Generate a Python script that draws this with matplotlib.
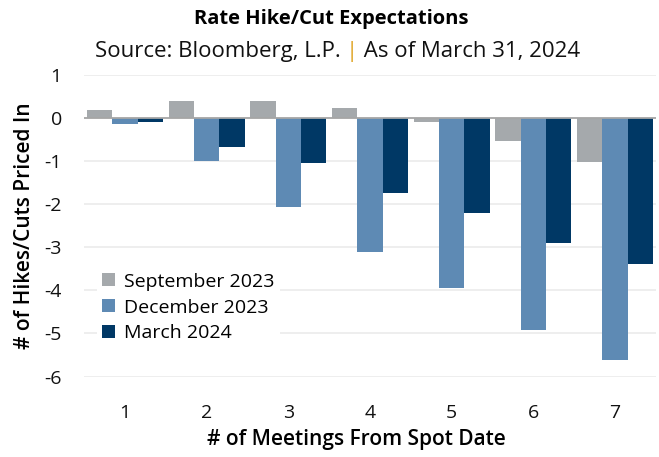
import matplotlib
matplotlib.use('Agg')
import matplotlib.pyplot as plt
import numpy as np

plt.rcParams['font.family'] = ['Open Sans', 'DejaVu Sans']
plt.rcParams['axes.unicode_minus'] = False

# Data
meetings = ['1', '2', '3', '4', '5', '6', '7']
sep_2023 = [0.18, 0.39, 0.39, 0.23, -0.09, -0.53, -1.03]
dec_2023 = [-0.15, -1.00, -2.06, -3.10, -3.95, -4.91, -5.61]
mar_2024 = [-0.10, -0.67, -1.05, -1.75, -2.21, -2.90, -3.39]
series_names = ['September 2023', 'December 2023', 'March 2024']
colors = ['#A5A9AC', '#5E8AB4', '#003865']

fig = plt.figure(figsize=(6.59, 4.57), dpi=100)
ax = fig.add_axes([0.1275, 0.176, 0.8675, 0.66])

x = np.arange(1, len(meetings) + 1)
w = 0.31
for i, (vals, name, c) in enumerate(zip([sep_2023, dec_2023, mar_2024],
                                         series_names, colors)):
    ax.bar(x + (i - 1) * w, vals, width=w, color=c, label=name, zorder=3)

ax.set_xlim(0.5, 7.5)
ax.set_ylim(-6, 1)
ax.set_yticks(range(-6, 2))
ax.set_xticks(x)
ax.set_xticklabels(meetings)
ax.grid(axis='y', color='#EBEBEB', lw=1.2, zorder=0)
ax.axhline(0, color='#A6A6A6', lw=1.3, zorder=4)
for s in ax.spines.values():
    s.set_visible(False)
ax.tick_params(axis='both', length=0, labelsize=14, colors='#111111')
ax.tick_params(axis='x', pad=20)
ax.tick_params(axis='y', pad=16)

ax.set_xlabel('# of Meetings From Spot Date', fontsize=15,
              fontweight='semibold')
ax.xaxis.set_label_coords(0.476, -0.175)
ax.set_ylabel('# of Hikes/Cuts Priced In', fontsize=15,
              fontweight='semibold', labelpad=7)

leg = ax.legend(loc='lower left', bbox_to_anchor=(0.005, 0.062), frameon=True,
                fontsize=14, handlelength=0.65, handleheight=0.65,
                handletextpad=0.45, labelspacing=0.4, borderpad=0.3)
leg.get_frame().set_facecolor('white')
leg.get_frame().set_edgecolor('none')
leg.get_frame().set_alpha(1)
leg.set_zorder(5)

fig.text(0.502, 0.958, 'Rate Hike/Cut Expectations', ha='center',
         va='center', fontsize=14.5, fontweight='bold')

# Subtitle with gold separator
parts = ['Source: Bloomberg, L.P. ', '|', ' As of March 31, 2024']
pcolors = ['#111111', '#E0A526', '#111111']
texts = [fig.text(0, 0.887, p, ha='left', va='center', fontsize=16, color=c)
         for p, c in zip(parts, pcolors)]
fig.canvas.draw()
r = fig.canvas.get_renderer()
widths = [t.get_window_extent(r).width for t in texts]
start = (fig.bbox.width - sum(widths)) / 2 + 8
for t, wd in zip(texts, widths):
    t.set_x(start / fig.bbox.width)
    start += wd

fig.savefig('out.png', dpi=100)
